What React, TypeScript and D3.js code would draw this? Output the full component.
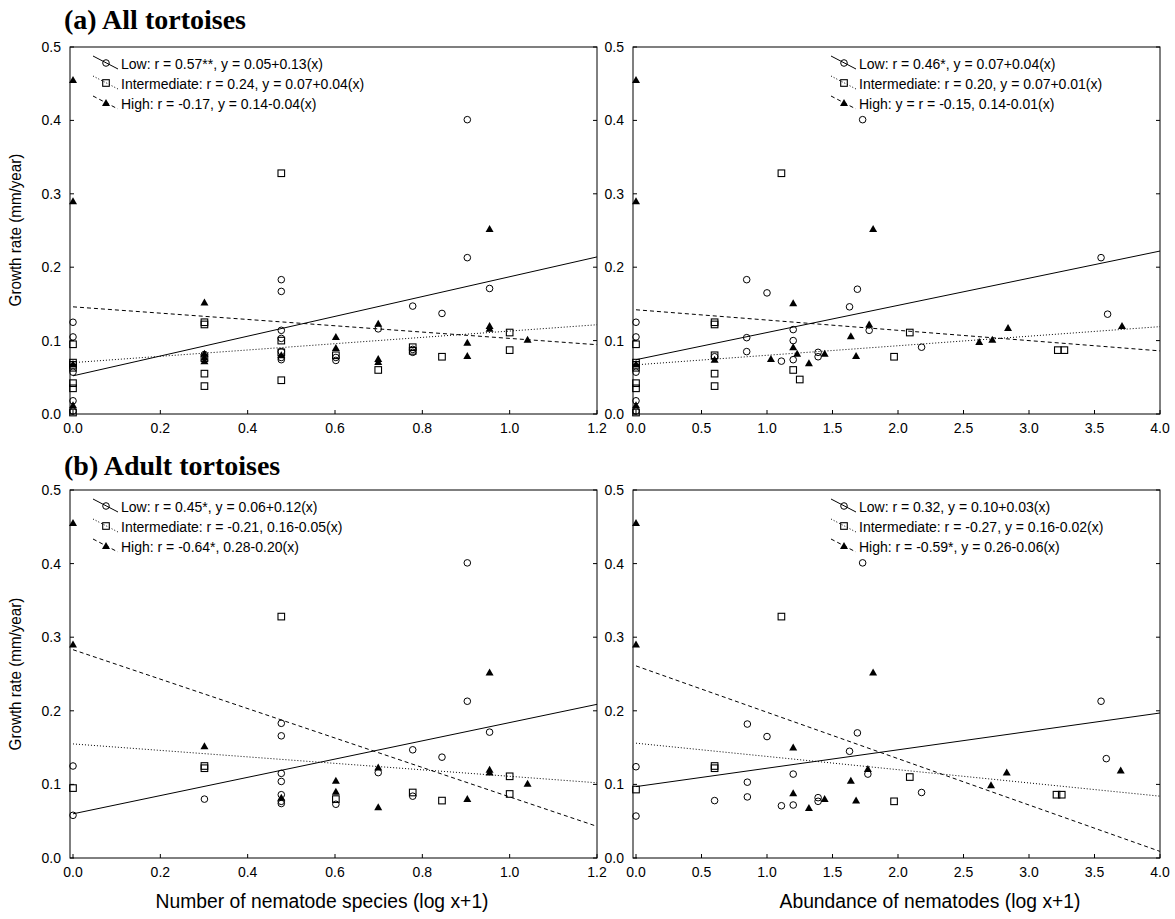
import * as d3 from "d3";

// growth rate (mm/year) against nematode species / abundance, log(x+1)
const LOW_ALL_SPECIES: [number, number][] = [
  [0, 0.125], [0, 0.105], [0, 0.057], [0, 0.018], [0, 0.004],
  [0.301, 0.081],
  [0.477, 0.183], [0.477, 0.167], [0.477, 0.114], [0.477, 0.103], [0.477, 0.085], [0.477, 0.077], [0.477, 0.074],
  [0.602, 0.077], [0.602, 0.073],
  [0.699, 0.116],
  [0.778, 0.147], [0.778, 0.088], [0.778, 0.084],
  [0.845, 0.137],
  [0.903, 0.401], [0.903, 0.213],
  [0.954, 0.171],
];
const INT_ALL_SPECIES: [number, number][] = [
  [0, 0.095], [0, 0.07], [0, 0.067], [0, 0.063], [0, 0.042], [0, 0.035], [0, 0.002],
  [0.301, 0.125], [0.301, 0.122], [0.301, 0.076], [0.301, 0.055], [0.301, 0.038],
  [0.477, 0.328], [0.477, 0.1], [0.477, 0.084], [0.477, 0.046],
  [0.602, 0.08],
  [0.699, 0.06],
  [0.778, 0.091], [0.778, 0.086],
  [0.845, 0.078],
  [1.0, 0.111], [1.0, 0.087],
];
const HIGH_ALL_SPECIES: [number, number][] = [
  [0, 0.455], [0, 0.29], [0, 0.068], [0, 0.012],
  [0.301, 0.152], [0.301, 0.082], [0.301, 0.077], [0.301, 0.072],
  [0.477, 0.08],
  [0.602, 0.105], [0.602, 0.09],
  [0.699, 0.123], [0.699, 0.075], [0.699, 0.071],
  [0.903, 0.097], [0.903, 0.079],
  [0.954, 0.252], [0.954, 0.12], [0.954, 0.116],
  [1.041, 0.101],
];

const LOW_ALL_ABUND: [number, number][] = [
  [0, 0.125], [0, 0.105], [0, 0.057], [0, 0.018], [0, 0.004],
  [0.6, 0.078],
  [0.845, 0.183], [0.845, 0.104], [0.845, 0.085],
  [1.0, 0.165],
  [1.11, 0.072],
  [1.2, 0.115], [1.2, 0.1], [1.2, 0.074],
  [1.39, 0.084], [1.39, 0.078],
  [1.63, 0.146],
  [1.69, 0.17],
  [1.73, 0.401],
  [1.78, 0.114],
  [2.18, 0.091],
  [3.55, 0.213],
  [3.6, 0.136],
];
const INT_ALL_ABUND: [number, number][] = [
  [0, 0.095], [0, 0.07], [0, 0.067], [0, 0.063], [0, 0.042], [0, 0.035], [0, 0.002],
  [0.6, 0.125], [0.6, 0.122], [0.6, 0.08], [0.6, 0.055], [0.6, 0.038],
  [1.11, 0.328],
  [1.2, 0.06],
  [1.25, 0.047],
  [1.97, 0.078],
  [2.09, 0.111],
  [3.22, 0.087], [3.27, 0.087],
];
const HIGH_ALL_ABUND: [number, number][] = [
  [0, 0.455], [0, 0.29], [0, 0.068], [0, 0.012],
  [0.6, 0.074],
  [1.03, 0.075],
  [1.2, 0.151], [1.2, 0.091],
  [1.23, 0.082],
  [1.32, 0.069],
  [1.44, 0.082],
  [1.64, 0.106],
  [1.68, 0.079],
  [1.78, 0.122],
  [1.81, 0.252],
  [2.62, 0.098],
  [2.72, 0.101],
  [2.84, 0.117],
  [3.71, 0.12],
];

const LOW_ADULT_SPECIES: [number, number][] = [
  [0, 0.125], [0, 0.058],
  [0.301, 0.08],
  [0.477, 0.183], [0.477, 0.166], [0.477, 0.115], [0.477, 0.104], [0.477, 0.086], [0.477, 0.077], [0.477, 0.074],
  [0.602, 0.073],
  [0.699, 0.116],
  [0.778, 0.147], [0.778, 0.084],
  [0.845, 0.137],
  [0.903, 0.401], [0.903, 0.213],
  [0.954, 0.171],
];
const INT_ADULT_SPECIES: [number, number][] = [
  [0, 0.095],
  [0.301, 0.125], [0.301, 0.122],
  [0.477, 0.328],
  [0.602, 0.08],
  [0.778, 0.089],
  [0.845, 0.078],
  [1.0, 0.111], [1.0, 0.087],
];
const HIGH_ADULT_SPECIES: [number, number][] = [
  [0, 0.455], [0, 0.29],
  [0.301, 0.152],
  [0.477, 0.082],
  [0.602, 0.105], [0.602, 0.09],
  [0.699, 0.123], [0.699, 0.069],
  [0.903, 0.08],
  [0.954, 0.252], [0.954, 0.12], [0.954, 0.116],
  [1.041, 0.101],
];

const LOW_ADULT_ABUND: [number, number][] = [
  [0, 0.124], [0, 0.057],
  [0.6, 0.078],
  [0.85, 0.182], [0.85, 0.103], [0.85, 0.083],
  [1.0, 0.165],
  [1.11, 0.071],
  [1.2, 0.114], [1.2, 0.072],
  [1.39, 0.082], [1.39, 0.077],
  [1.63, 0.145],
  [1.69, 0.17],
  [1.73, 0.401],
  [1.77, 0.114],
  [2.18, 0.089],
  [3.55, 0.213],
  [3.59, 0.135],
];
const INT_ADULT_ABUND: [number, number][] = [
  [0, 0.093],
  [0.6, 0.125], [0.6, 0.122],
  [1.11, 0.328],
  [1.97, 0.077],
  [2.09, 0.11],
  [3.21, 0.086], [3.25, 0.086],
];
const HIGH_ADULT_ABUND: [number, number][] = [
  [0, 0.455], [0, 0.29],
  [1.2, 0.15], [1.2, 0.088],
  [1.32, 0.068],
  [1.44, 0.08],
  [1.64, 0.105],
  [1.68, 0.078],
  [1.77, 0.121],
  [1.81, 0.252],
  [2.71, 0.099],
  [2.83, 0.116],
  [3.7, 0.119],
];

// fitted lines [intercept, slope] for low, intermediate, high
const FIT_ALL_SPECIES = [[0.052, 0.135], [0.07, 0.043], [0.146, -0.043]];
const FIT_ALL_ABUND = [[0.074, 0.037], [0.067, 0.013], [0.142, -0.014]];
const FIT_ADULT_SPECIES = [[0.06, 0.124], [0.155, -0.044], [0.283, -0.2]];
const FIT_ADULT_ABUND = [[0.097, 0.025], [0.156, -0.018], [0.261, -0.063]];

const LEGEND_ALL_SPECIES = [
  "Low: r = 0.57**, y = 0.05+0.13(x)",
  "Intermediate: r = 0.24, y = 0.07+0.04(x)",
  "High: r = -0.17, y = 0.14-0.04(x)",
];
const LEGEND_ALL_ABUND = [
  "Low: r = 0.46*, y = 0.07+0.04(x)",
  "Intermediate: r = 0.20, y = 0.07+0.01(x)",
  "High: y = r = -0.15, 0.14-0.01(x)",
];
const LEGEND_ADULT_SPECIES = [
  "Low: r = 0.45*, y = 0.06+0.12(x)",
  "Intermediate: r = -0.21, 0.16-0.05(x)",
  "High: r = -0.64*, 0.28-0.20(x)",
];
const LEGEND_ADULT_ABUND = [
  "Low: r = 0.32, y = 0.10+0.03(x)",
  "Intermediate: r = -0.27, y = 0.16-0.02(x)",
  "High: r = -0.59*, y = 0.26-0.06(x)",
];

const SPECIES_TICKS = [0, 0.2, 0.4, 0.6, 0.8, 1.0, 1.2];
const ABUND_TICKS = [0, 0.5, 1.0, 1.5, 2.0, 2.5, 3.0, 3.5, 4.0];
const Y_TICKS = [0, 0.1, 0.2, 0.3, 0.4, 0.5];

const DASHES = [null, "1,2", "4,3"];
const FONT = "Arial, 'Liberation Sans', sans-serif";
const SERIF = "'Times New Roman', 'Liberation Serif', serif";

function Marker({ kind, x, y }: { kind: number; x: number; y: number }) {
  if (kind === 0) return <circle cx={x} cy={y} r={3.3} fill="none" stroke="#000" strokeWidth={1} />;
  if (kind === 1) return <rect x={x - 3.3} y={y - 3.3} width={6.6} height={6.6} fill="none" stroke="#000" strokeWidth={1.1} />;
  const s = 4;
  return <path d={`M${x},${y - s}L${x + s},${y + s * 0.75}L${x - s},${y + s * 0.75}Z`} fill="#000" />;
}

type PanelProps = {
  left: number; right: number; top: number; bottom: number;
  xStart: number; xMax: number; xTicks: number[];
  groups: [number, number][][]; fits: number[][]; legend: string[]; legendX: number;
};

function Panel(p: PanelProps) {
  const x = d3.scaleLinear().domain([0, p.xMax]).range([p.xStart, p.right]);
  const y = d3.scaleLinear().domain([0, 0.5]).range([p.bottom, p.top]);
  const line = d3.line<number[]>().x((v) => x(v[0])).y((v) => y(v[1]));
  return (
    <g fontFamily={FONT}>
      <rect x={p.left} y={p.top} width={p.right - p.left} height={p.bottom - p.top} fill="none" stroke="#000" strokeWidth={1} />
      {Y_TICKS.map((t) => (
        <g key={"y" + t}>
          <line x1={p.left} x2={p.left + 4} y1={y(t)} y2={y(t)} stroke="#000" />
          <line x1={p.right - 4} x2={p.right} y1={y(t)} y2={y(t)} stroke="#000" />
          <text x={p.left - 9} y={y(t)} dy="0.35em" textAnchor="end" fontSize={14}>{t.toFixed(1)}</text>
        </g>
      ))}
      {p.xTicks.map((t) => (
        <g key={"x" + t}>
          <line x1={x(t)} x2={x(t)} y1={p.bottom} y2={p.bottom - 4} stroke="#000" />
          <text x={x(t)} y={p.bottom + 19} textAnchor="middle" fontSize={14}>{t.toFixed(1)}</text>
        </g>
      ))}
      {p.fits.map((f, i) => (
        <path key={"f" + i} d={line([[0, f[0]], [p.xMax, f[0] + f[1] * p.xMax]]) || ""}
          fill="none" stroke="#000" strokeWidth={1} strokeDasharray={DASHES[i] || undefined} />
      ))}
      {p.groups.map((g, gi) => g.map((d, i) => <Marker key={gi + "-" + i} kind={gi} x={x(d[0])} y={y(d[1])} />))}
      {p.legend.map((s, i) => {
        const ly = p.top + 17 + i * 20;
        return (
          <g key={"l" + i}>
            <line x1={p.legendX - 28} y1={ly - 8} x2={p.legendX - 3} y2={ly + 5} stroke="#000" strokeDasharray={DASHES[i] || undefined} />
            <Marker kind={i} x={p.legendX - 15} y={ly - 1} />
            <text x={p.legendX} y={ly} dy="0.35em" fontSize={14}>{s}</text>
          </g>
        );
      })}
    </g>
  );
}

export default function App() {
  const L = { left: 70, right: 597, xStart: 73 };
  const R = { left: 633, right: 1160, xStart: 636 };
  const TOP = { top: 47, bottom: 414 };
  const BOT = { top: 490, bottom: 858 };
  return (
    <svg width={1175} height={919} style={{ position: "absolute", left: 0, top: 0, background: "#fff" }}>
      <text x={64} y={29} fontFamily={SERIF} fontWeight="bold" fontSize={28}>(a) All tortoises</text>
      <text x={64} y={475} fontFamily={SERIF} fontWeight="bold" fontSize={28}>(b) Adult tortoises</text>
      <Panel {...L} {...TOP} xMax={1.2} xTicks={SPECIES_TICKS}
        groups={[LOW_ALL_SPECIES, INT_ALL_SPECIES, HIGH_ALL_SPECIES]} fits={FIT_ALL_SPECIES}
        legend={LEGEND_ALL_SPECIES} legendX={121} />
      <Panel {...R} {...TOP} xMax={4} xTicks={ABUND_TICKS}
        groups={[LOW_ALL_ABUND, INT_ALL_ABUND, HIGH_ALL_ABUND]} fits={FIT_ALL_ABUND}
        legend={LEGEND_ALL_ABUND} legendX={859} />
      <Panel {...L} {...BOT} xMax={1.2} xTicks={SPECIES_TICKS}
        groups={[LOW_ADULT_SPECIES, INT_ADULT_SPECIES, HIGH_ADULT_SPECIES]} fits={FIT_ADULT_SPECIES}
        legend={LEGEND_ADULT_SPECIES} legendX={121} />
      <Panel {...R} {...BOT} xMax={4} xTicks={ABUND_TICKS}
        groups={[LOW_ADULT_ABUND, INT_ADULT_ABUND, HIGH_ADULT_ABUND]} fits={FIT_ADULT_ABUND}
        legend={LEGEND_ADULT_ABUND} legendX={859} />
      {[230, 674].map((cy) => (
        <text key={cy} transform={`translate(21,${cy}) rotate(-90) scale(0.95,1)`} textAnchor="middle" fontFamily={FONT} fontSize={16}>
          Growth rate (mm/year)
        </text>
      ))}
      <text transform="translate(322,908) scale(0.92,1)" textAnchor="middle" fontFamily={FONT} fontSize={21}>Number of nematode species (log x+1)</text>
      <text transform="translate(930,908) scale(0.92,1)" textAnchor="middle" fontFamily={FONT} fontSize={21}>Abundance of nematodes (log x+1)</text>
    </svg>
  );
}
